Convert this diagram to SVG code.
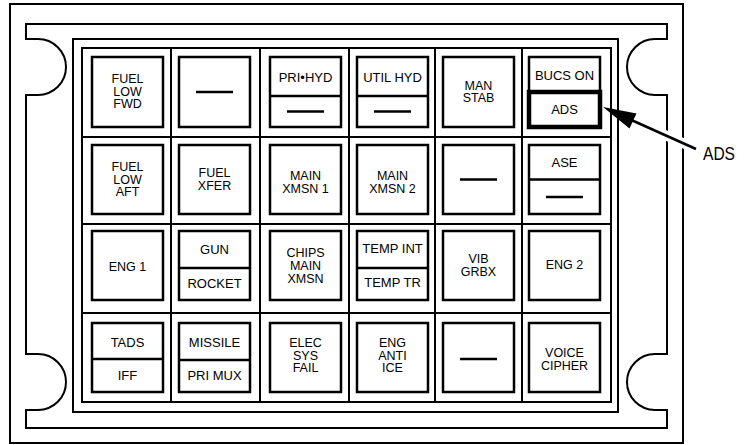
<svg xmlns="http://www.w3.org/2000/svg" width="746" height="445" viewBox="0 0 746 445">
<style>
.fr{fill:none;stroke:#000;stroke-width:2}
.bx{fill:#fff;stroke:#000;stroke-width:2.5}
.thk{fill:none;stroke:#000;stroke-width:4.5}
.sp{stroke:#000;stroke-width:2.5}
.ds{stroke:#000;stroke-width:2.5}
text{font-family:"Liberation Sans",Arial,sans-serif;font-size:12.5px;fill:#000;text-anchor:middle}
.s{font-size:13px}
</style>
<rect width="746" height="445" fill="#fff"/>
<g id="panel">
<rect class="fr" x="10" y="4" width="673" height="439"/>
<path class="fr" d="M26,24 H667 V39 H655 A28,28 0 0 0 655,95 H667 V354 H655 A28,28 0 0 0 655,410 H667 V428 H26 V410 H38 A28,28 0 0 0 38,354 H26 V95 H38 A28,28 0 0 0 38,39 H26 Z"/>
<rect class="fr" x="73" y="39" width="545" height="373"/>
<rect class="fr" x="82" y="48" width="529" height="354"/>
<path class="fr" d="M171,48 V402 M260,48 V402 M349,48 V402 M435,48 V402 M522,48 V402 M82,137 H611 M82,224 H611 M82,313 H611"/>
</g>
<g id="r1c1"><rect class="bx" x="92" y="57" width="71" height="70"/><text x="127.5" y="83">FUEL</text><text x="127.5" y="95.5">LOW</text><text x="127.5" y="108">FWD</text></g>
<g id="r1c2"><rect class="bx" x="179" y="57" width="71" height="70"/><line class="ds" x1="196" y1="92" x2="233" y2="92"/></g>
<g id="r1c3"><rect class="bx" x="270" y="57" width="71" height="70"/><line class="sp" x1="270" y1="96" x2="341" y2="96"/><text class="s" x="305.5" y="82">PRI•HYD</text><line class="ds" x1="287" y1="111.5" x2="324" y2="111.5"/></g>
<g id="r1c4"><rect class="bx" x="357" y="57" width="71" height="70"/><line class="sp" x1="357" y1="96" x2="428" y2="96"/><text class="s" x="392.5" y="82">UTIL HYD</text><line class="ds" x1="374" y1="111.5" x2="411" y2="111.5"/></g>
<g id="r1c5"><rect class="bx" x="443" y="57" width="71" height="70"/><text x="478.5" y="89.5">MAN</text><text x="478.5" y="102">STAB</text></g>
<g id="r1c6"><rect class="bx" x="529" y="57" width="71" height="70"/><text class="s" x="564.5" y="80">BUCS ON</text><rect class="thk" x="529" y="92" width="71" height="35"/><text class="s" x="564.5" y="114">ADS</text></g>
<g id="r2c1"><rect class="bx" x="92" y="145" width="71" height="69"/><text x="127.5" y="171">FUEL</text><text x="127.5" y="183.5">LOW</text><text x="127.5" y="196">AFT</text></g>
<g id="r2c2"><rect class="bx" x="179" y="145" width="71" height="69"/><text x="214.5" y="177">FUEL</text><text x="214.5" y="190">XFER</text></g>
<g id="r2c3"><rect class="bx" x="270" y="145" width="71" height="69"/><text x="305.5" y="180">MAIN</text><text x="305.5" y="193">XMSN 1</text></g>
<g id="r2c4"><rect class="bx" x="357" y="145" width="71" height="69"/><text x="392.5" y="180">MAIN</text><text x="392.5" y="193">XMSN 2</text></g>
<g id="r2c5"><rect class="bx" x="443" y="145" width="71" height="69"/><line class="ds" x1="460" y1="179.5" x2="497" y2="179.5"/></g>
<g id="r2c6"><rect class="bx" x="529" y="145" width="71" height="69"/><line class="sp" x1="529" y1="179.5" x2="600" y2="179.5"/><text class="s" x="564.5" y="167">ASE</text><line class="ds" x1="546" y1="197" x2="583" y2="197"/></g>
<g id="r3c1"><rect class="bx" x="92" y="231" width="71" height="69"/><text x="127.5" y="270.5">ENG 1</text></g>
<g id="r3c2"><rect class="bx" x="179" y="231" width="71" height="69"/><line class="sp" x1="179" y1="268" x2="250" y2="268"/><text class="s" x="214.5" y="254">GUN</text><text class="s" x="214.5" y="288">ROCKET</text></g>
<g id="r3c3"><rect class="bx" x="270" y="231" width="71" height="69"/><text x="305.5" y="257">CHIPS</text><text x="305.5" y="270">MAIN</text><text x="305.5" y="283">XMSN</text></g>
<g id="r3c4"><rect class="bx" x="357" y="231" width="71" height="69"/><line class="sp" x1="357" y1="268" x2="428" y2="268"/><text class="s" x="392.5" y="253">TEMP INT</text><text class="s" x="392.5" y="287">TEMP TR</text></g>
<g id="r3c5"><rect class="bx" x="443" y="231" width="71" height="69"/><text x="478.5" y="263">VIB</text><text x="478.5" y="276">GRBX</text></g>
<g id="r3c6"><rect class="bx" x="529" y="231" width="71" height="69"/><text x="564.5" y="269">ENG 2</text></g>
<g id="r4c1"><rect class="bx" x="92" y="323" width="71" height="69"/><line class="sp" x1="92" y1="359" x2="163" y2="359"/><text class="s" x="127.5" y="347">TADS</text><text class="s" x="127.5" y="380">IFF</text></g>
<g id="r4c2"><rect class="bx" x="179" y="323" width="71" height="69"/><line class="sp" x1="179" y1="360" x2="250" y2="360"/><text class="s" x="214.5" y="347">MISSILE</text><text class="s" x="214.5" y="380">PRI MUX</text></g>
<g id="r4c3"><rect class="bx" x="270" y="323" width="71" height="69"/><text x="305.5" y="347">ELEC</text><text x="305.5" y="359.5">SYS</text><text x="305.5" y="372">FAIL</text></g>
<g id="r4c4"><rect class="bx" x="357" y="323" width="71" height="69"/><text x="392.5" y="347">ENG</text><text x="392.5" y="359.5">ANTI</text><text x="392.5" y="372">ICE</text></g>
<g id="r4c5"><rect class="bx" x="443" y="323" width="71" height="69"/><line class="ds" x1="460" y1="359" x2="497" y2="359"/></g>
<g id="r4c6"><rect class="bx" x="529" y="323" width="71" height="69"/><text x="564.5" y="356.5">VOICE</text><text x="564.5" y="369.5">CIPHER</text></g>
<g id="connectors">
<line x1="645" y1="126" x2="696" y2="149" stroke="#fff" stroke-width="10"/>
<line x1="628" y1="118.5" x2="696" y2="149" stroke="#000" stroke-width="2.5"/>
<polygon points="603,107 636.5,113.5 629.5,128.5" fill="#000"/>
</g>
<g id="label-ads"><text x="719" y="160" style="font-size:19px" textLength="32" lengthAdjust="spacingAndGlyphs">ADS</text></g>
</svg>
